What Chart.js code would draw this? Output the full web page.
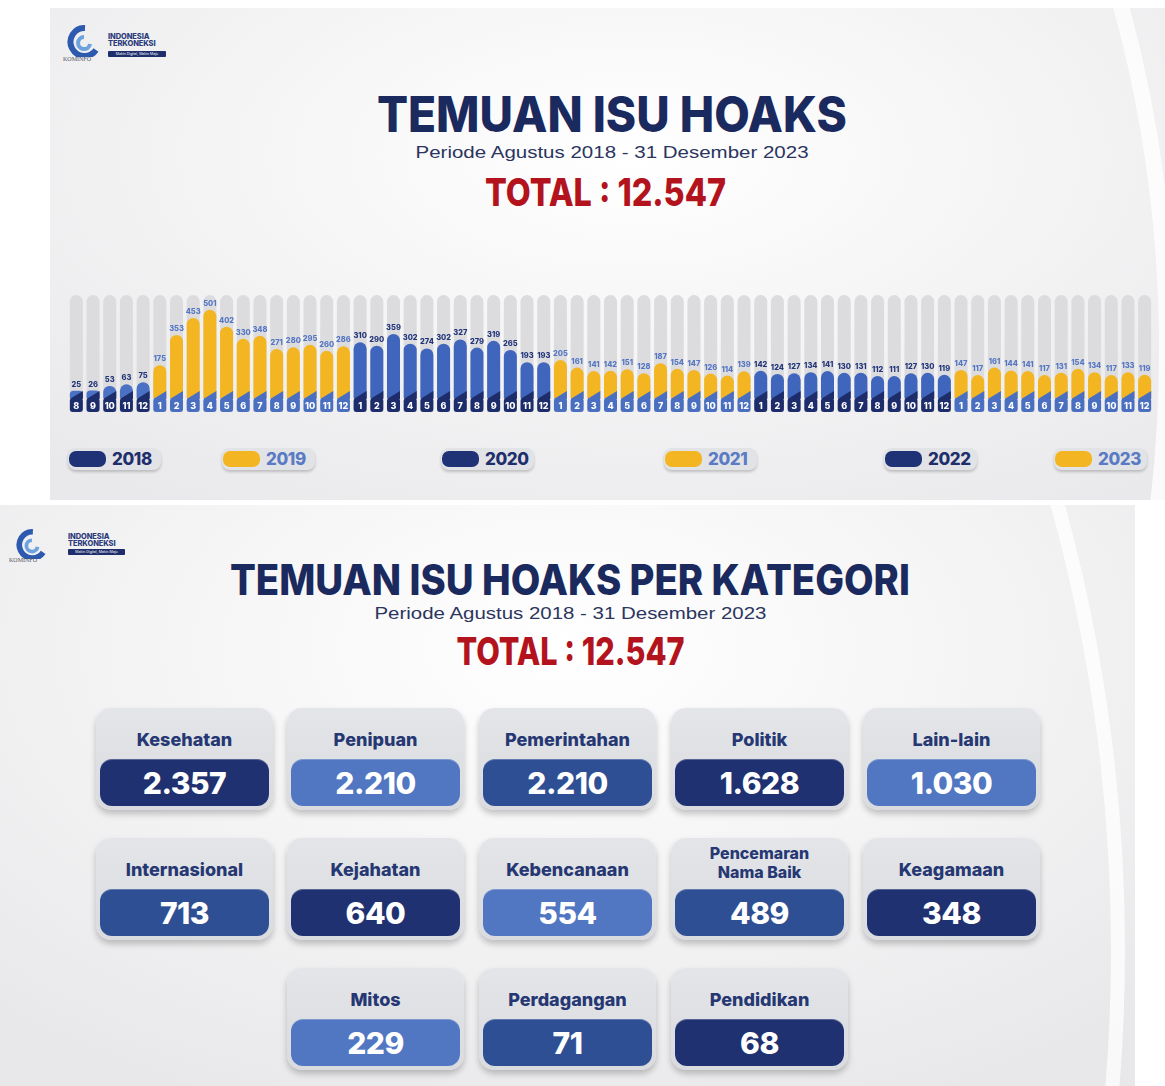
<!DOCTYPE html>
<html>
<head>
<meta charset="utf-8">
<script src="https://cdn.jsdelivr.net/npm/chart.js@4.4.1/dist/chart.umd.min.js"></script>
<style>
  body { margin: 0; width: 1165px; height: 1086px; background: #fff; position: relative; overflow: hidden; font-family: Inter, "Open Sans", sans-serif; }
  .panel { position: absolute; overflow: hidden; }
  #topPanel { left: 50px; top: 8px; width: 1115px; height: 492px;
    background: radial-gradient(ellipse 75% 85% at 52% 30%, #ffffff 0%, #f5f5f6 45%, #e9e9eb 100%); }
  #bottomPanel { left: 0; top: 505px; width: 1135px; height: 581px;
    background: radial-gradient(ellipse 75% 85% at 50% 25%, #ffffff 0%, #f4f4f5 50%, #e8e8ea 100%); }
  .arc { position: absolute; box-sizing: border-box; border-radius: 50%; border-style: solid; border-color: rgba(255,255,255,0.75); }
  .txt { position: absolute; width: 900px; text-align: center; white-space: nowrap; line-height: 1; }
  .txt span { display: inline-block; transform-origin: 50% 50%; }
  .navy { color: #1b2a5e; font-weight: 800; }
  .sub { color: #2b355e; font-weight: 400; font-family: "Liberation Sans", Arial, sans-serif; }
  .red { color: #b3131c; font-weight: 800; }
  #chartBox { position: absolute; left: 68px; top: 285px; width: 1085px; height: 130px; }
  .pill { position: absolute; top: 448px; width: 93px; height: 22px; border-radius: 8px; background: #e2e3e6; box-shadow: 0 2px 3px rgba(0,0,0,0.2); }
  .pill .sw { position: absolute; left: 1px; top: 3px; width: 37px; height: 16px; border-radius: 7px; }
  .pill .yr { position: absolute; left: 44px; top: 2px; font-size: 17px; font-weight: 800; line-height: 18px; letter-spacing: -0.4px; }
  .card { position: absolute; width: 177px; height: 102px; border-radius: 15px; background: linear-gradient(#e4e5e8, #dadbde); box-shadow: 0 4px 6px rgba(0,0,0,0.22); }
  .card .ttl { position: absolute; left: 0; top: 0; width: 100%; height: 51px; box-sizing: border-box; display: flex; align-items: center; justify-content: center; text-align: center; color: #263873; font-weight: 800; font-size: 18px; line-height: 19px; }
  .card .val { position: absolute; left: 4px; right: 4px; top: 51px; height: 47px; border-radius: 12px; display: flex; align-items: center; justify-content: center; color: #fff; font-weight: 800; font-size: 30px; letter-spacing: -0.5px; box-shadow: inset 0 1px 0 rgba(255,255,255,0.25); }
  .logo { position: absolute; }
  .logo .t { position: absolute; font-weight: 800; font-size: 7.5px; color: #2b3a7a; line-height: 8px; letter-spacing: -0.1px; }
  .logo .bar { position: absolute; height: 6px; background: #1e2d6b; color: #fff; font-size: 3.5px; line-height: 6px; text-align: center; border-radius: 1px; }
  .logo .k { position: absolute; font-size: 6px; color: #556; font-family: "Liberation Serif", serif; }
</style>
</head>
<body>

<div class="panel" id="topPanel">
  <div class="arc" style="left:-1501px; top:-971px; width:2626px; height:2626px; border-width:16px;"></div>
</div>
<div class="panel" id="bottomPanel">
  <div class="arc" style="left:-2235px; top:-1235px; width:3360px; height:3360px; border-width:14px;"></div>
</div>

<!-- logos -->
<div class="logo" style="left:63px; top:25px;">
  <svg width="36" height="32" viewBox="0 0 36 32" style="position:absolute;left:2px;top:0">
    <path d="M20 3 A14 14 0 1 0 31 25" stroke="#2d5aae" stroke-width="6" fill="none"/>
    <path d="M19 12 A6 6 0 1 0 25 19" stroke="#6da2de" stroke-width="4" fill="none"/>
  </svg>
  <div class="t" style="left:45px; top:8px;">INDONESIA</div>
  <div class="t" style="left:45px; top:15px;">TERKONEKSI</div>
  <div class="bar" style="left:45px; top:26px; width:58px;">Makin Digital, Makin Maju</div>
  <div class="k" style="left:0; top:31px;">KOMINFO</div>
</div>
<div class="logo" style="left:9px; top:529px;">
  <svg width="40" height="30" viewBox="0 0 36 32" style="position:absolute;left:2px;top:0">
    <path d="M20 3 A14 14 0 1 0 31 25" stroke="#2d5aae" stroke-width="6" fill="none"/>
    <path d="M19 12 A6 6 0 1 0 25 19" stroke="#6da2de" stroke-width="4" fill="none"/>
  </svg>
  <div class="t" style="left:59px; top:4px;">INDONESIA</div>
  <div class="t" style="left:59px; top:11px;">TERKONEKSI</div>
  <div class="bar" style="left:59px; top:20px; width:57px;">Makin Digital, Makin Maju</div>
  <div class="k" style="left:0; top:28px;">KOMINFO</div>
</div>

<!-- headings -->
<div class="txt navy" style="left:162px; top:90px; font-size:49.5px;" data-w="470"><span>TEMUAN ISU HOAKS</span></div>
<div class="txt sub" style="left:162px; top:144px; font-size:17px;" data-w="393"><span>Periode Agustus 2018 - 31 Desember 2023</span></div>
<div class="txt red" style="left:155px; top:173px; font-size:38.5px;" data-w="241"><span id="total1"></span></div>

<div class="txt navy" style="left:120px; top:558.7px; font-size:42px;" data-w="680"><span>TEMUAN ISU HOAKS PER KATEGORI</span></div>
<div class="txt sub" style="left:120px; top:605.5px; font-size:16px;" data-w="392"><span>Periode Agustus 2018 - 31 Desember 2023</span></div>
<div class="txt red" style="left:120px; top:632px; font-size:38.5px;" data-w="228"><span id="total2"></span></div>

<div id="chartBox"><canvas id="myChart"></canvas></div>
<div id="legend"></div>
<div id="cards"></div>

<script>
// monthly findings per year
const years = ["2018", "2019", "2020", "2021", "2022", "2023"];
const counts2018 = [25, 26, 53, 63, 75];
const counts2019 = [175, 353, 453, 501, 402, 330, 348, 271, 280, 295, 260, 286];
const counts2020 = [310, 290, 359, 302, 274, 302, 327, 279, 319, 265, 193, 193];
const counts2021 = [205, 161, 141, 142, 151, 128, 187, 154, 147, 126, 114, 139];
const counts2022 = [142, 124, 127, 134, 141, 130, 131, 112, 111, 127, 130, 119];
const counts2023 = [147, 117, 161, 144, 141, 117, 131, 154, 134, 117, 133, 119];

// month tick labels
const monthTicks2018 = ["8", "9", "10", "11", "12"];
const monthTicks = ["1", "2", "3", "4", "5", "6", "7", "8", "9", "10", "11", "12"];

// per category
const categories = ["Kesehatan", "Penipuan", "Pemerintahan", "Politik", "Lain-lain",
  "Internasional", "Kejahatan", "Kebencanaan", "Pencemaran Nama Baik", "Keagamaan",
  "Mitos", "Perdagangan", "Pendidikan"];
const categoryCounts = [2357, 2210, 2210, 1628, 1030, 713, 640, 554, 489, 348, 229, 71, 68];

// colours
const navy = "#1d2d6b";
const midBlue = "#4a6fc0";
const barBlue = "#3f66bc";
const yellow = "#f3b622";
const cardShades = ["#1f3171", "#5176c2", "#2e4f94", "#1f3171", "#5176c2",
  "#2e4f94", "#1f3171", "#5176c2", "#2e4f94", "#1f3171",
  "#5176c2", "#2e4f94", "#1f3171"];

const dots = n => String(n).replace(/\B(?=(\d{3})+(?!\d))/g, ".");

// flatten years into one series
const perYear = [counts2018, counts2019, counts2020, counts2021, counts2022, counts2023];
const labels = [], values = [], yearIdx = [];
perYear.forEach((arr, y) => {
  const ticks = y === 0 ? monthTicks2018 : monthTicks;
  arr.forEach((v, j) => { labels.push(ticks[j]); values.push(v); yearIdx.push(y); });
});
const total = values.reduce((a, b) => a + b, 0);
document.getElementById("total1").textContent = "TOTAL : " + dots(total);
document.getElementById("total2").textContent = "TOTAL : " + dots(categoryCounts.reduce((a, b) => a + b, 0));

const barColors = yearIdx.map(y => (y % 2 ? yellow : (y === 0 ? "#4b71c4" : barBlue)));
const tabColors = yearIdx.map(y => (y % 2 ? midBlue : navy));
const labelColors = yearIdx.map(y => (y % 2 ? "#5577c3" : "#24367a"));

// draws the diagonal notch, month numbers and the value labels
const barLabels = {
  id: "barLabels",
  afterDatasetsDraw(chart) {
    const ctx = chart.ctx;
    const bars = chart.getDatasetMeta(1).data;
    const tabs = chart.getDatasetMeta(2).data;
    ctx.save();
    ctx.textAlign = "center";
    tabs.forEach((el, i) => {
      const h = el.width / 2;
      ctx.fillStyle = tabColors[i];
      ctx.beginPath();
      ctx.moveTo(el.x - h, el.y + 1);
      ctx.lineTo(el.x + h, el.y + 1);
      ctx.lineTo(el.x + h, el.y - 7);
      ctx.closePath();
      ctx.fill();
      ctx.fillStyle = "#fff";
      ctx.font = "800 9px Inter";
      ctx.textBaseline = "middle";
      ctx.fillText(labels[i], el.x, (el.y + el.base) / 2 + 1);
    });
    bars.forEach((el, i) => {
      ctx.fillStyle = labelColors[i];
      ctx.font = "800 7.5px Inter";
      ctx.textBaseline = "alphabetic";
      ctx.fillText(values[i], el.x, el.y - 4);
    });
    ctx.restore();
  },
};

const common = { grouped: false, barPercentage: 0.78, categoryPercentage: 1 };

const data = {
  labels: labels,
  datasets: [
    { // grey track behind each month
      ...common,
      data: labels.map(() => 588),
      base: -100,
      backgroundColor: "#dcdcde",
      borderRadius: 7,
      order: 3,
    },
    {
      ...common,
      label: "Temuan",
      data: values,
      base: -18,
      backgroundColor: barColors,
      borderRadius: 7,
      order: 2,
    },
    { // month tab
      ...common,
      data: labels.map(() => -18),
      base: -100,
      backgroundColor: tabColors,
      borderRadius: 3,
      borderSkipped: false,
      order: 1,
    },
  ],
};

const config = {
  type: "bar",
  data: data,
  options: {
    responsive: true,
    maintainAspectRatio: false,
    animation: false,
    layout: { padding: 0 },
    plugins: { legend: { display: false }, tooltip: { enabled: false } },
    scales: {
      x: { display: false, offset: true },
      y: { display: false, min: -118, max: 647 },
    },
  },
  plugins: [barLabels],
};

const myChart = new Chart(document.getElementById("myChart"), config);

// year legend
const legendLeft = [68, 222, 441, 664, 884, 1054];
document.getElementById("legend").innerHTML = years.map((y, i) =>
  `<div class="pill" style="left:${legendLeft[i]}px">
     <div class="sw" style="background:${i % 2 ? yellow : "#1f3276"}"></div>
     <div class="yr" style="color:${i % 2 ? "#5a7bc4" : "#1f2f6c"}">${y}</div>
   </div>`).join("");

// category cards
const colLeft = [96, 287, 479, 671, 863];
const rowTop = [708, 838, 968];
document.getElementById("cards").innerHTML = categories.map((c, i) => {
  const row = Math.floor(i / 5);
  const col = row < 2 ? i % 5 : (i % 5) + 1;
  const long = c.length > 14;
  return `<div class="card" style="left:${colLeft[col]}px; top:${rowTop[row]}px">
    <div class="ttl" style="${long ? "font-size:16px;line-height:19px;padding:0 30px 2px;" : "padding-top:12px;"}">${c}</div>
    <div class="val" style="background:${cardShades[i]}">${dots(categoryCounts[i])}</div>
  </div>`;
}).join("");

// squeeze headings to the widths in the picture
document.querySelectorAll("[data-w]").forEach(el => {
  const s = el.firstElementChild;
  const w = s.getBoundingClientRect().width;
  s.style.transform = `scaleX(${el.dataset.w / w})`;
});
</script>
</body>
</html>
